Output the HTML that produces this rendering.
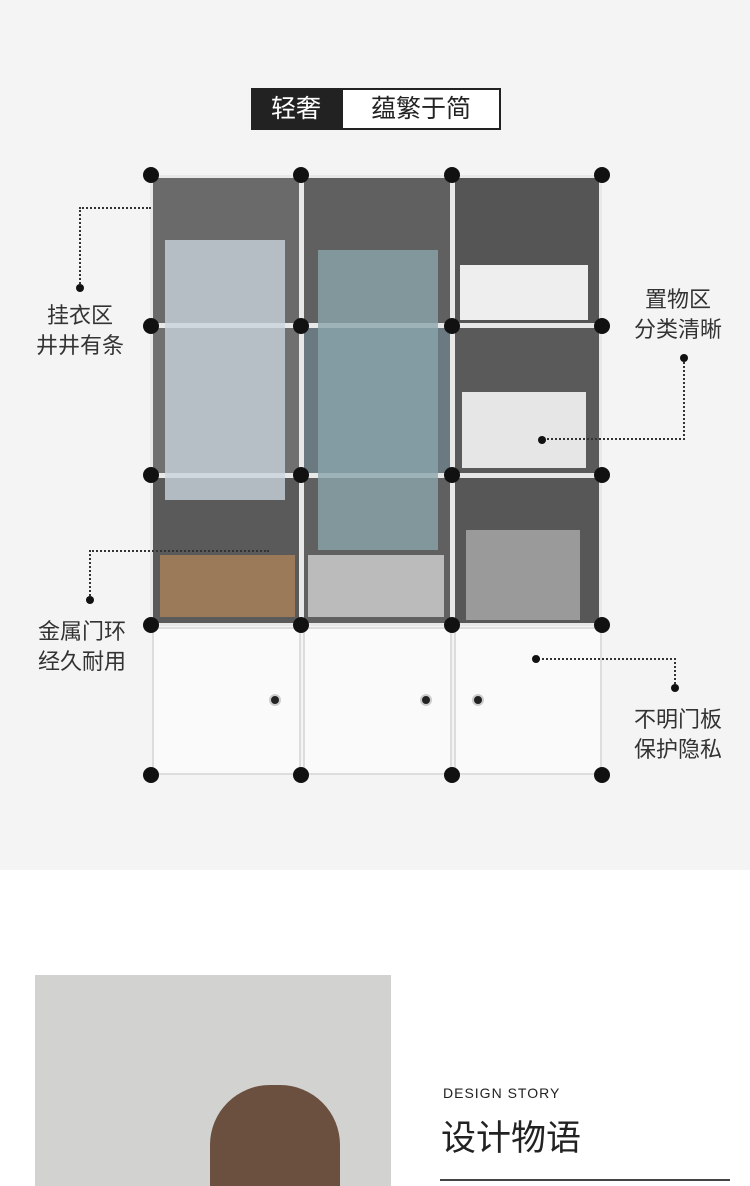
<!DOCTYPE html>
<html><head><meta charset="utf-8"><style>
*{margin:0;padding:0;box-sizing:border-box}
body{width:750px;height:1186px;overflow:hidden;background:#fff;font-family:"Liberation Sans","Noto Sans CJK SC",sans-serif;position:relative}
.top{position:absolute;left:0;top:0;width:750px;height:870px;background:#f4f4f4}
.abs{position:absolute}
.lbl{position:absolute;font-size:22px;line-height:30px;color:#333;text-align:center}
.dot{position:absolute;width:16px;height:16px;border-radius:50%;background:#111}
.cell{position:absolute;background:#5c5c5c;border:3px solid #e8e8e8}
.door{position:absolute;background:#fafafa;border:2px solid #ddd}
.knob{position:absolute;width:12px;height:12px;border-radius:50%;background:#222;border:2px solid #ccc}
.dl{position:absolute;border-color:#333;border-style:dotted;border-width:0}
</style></head><body>
<div class="top"></div>
<div class="abs" style="left:251px;top:88px;width:90px;height:42px;background:#222;color:#fff;font-size:25px;line-height:42px;text-align:center">轻奢</div>
<div class="abs" style="left:341px;top:88px;width:160px;height:42px;border:2px solid #222;background:#fff;color:#222;font-size:25px;line-height:38px;text-align:center">蕴繁于简</div>

<div class="cell" style="left:150px;top:175px;width:152px;height:151px;background:#6a6a6a"></div>
<div class="cell" style="left:301px;top:175px;width:152px;height:151px;background:#606060"></div>
<div class="cell" style="left:452px;top:175px;width:150px;height:151px;background:#555"></div>
<div class="cell" style="left:150px;top:325px;width:152px;height:151px;background:#707070"></div>
<div class="cell" style="left:301px;top:325px;width:152px;height:151px;background:#6a7a80"></div>
<div class="cell" style="left:452px;top:325px;width:150px;height:151px;background:#5a5a5a"></div>
<div class="cell" style="left:150px;top:475px;width:152px;height:151px;background:#5a5a5a"></div>
<div class="cell" style="left:301px;top:475px;width:152px;height:151px;background:#606060"></div>
<div class="cell" style="left:452px;top:475px;width:150px;height:151px;background:#575757"></div>
<div class="abs" style="left:165px;top:240px;width:120px;height:260px;background:#c9d3dc;opacity:.8"></div>
<div class="abs" style="left:318px;top:250px;width:120px;height:300px;background:#8aa5ab;opacity:.8"></div>
<div class="abs" style="left:460px;top:265px;width:128px;height:55px;background:#eee"></div>
<div class="abs" style="left:462px;top:392px;width:124px;height:76px;background:#e6e6e6"></div>
<div class="abs" style="left:466px;top:530px;width:114px;height:90px;background:#9a9a9a"></div>
<div class="abs" style="left:308px;top:555px;width:136px;height:62px;background:#bbb"></div>
<div class="abs" style="left:160px;top:555px;width:135px;height:62px;background:#9b7a5a"></div>
<div class="door" style="left:152px;top:627px;width:149px;height:148px"></div>
<div class="door" style="left:303px;top:627px;width:149px;height:148px"></div>
<div class="door" style="left:454px;top:627px;width:148px;height:148px"></div>
<div class="knob" style="left:269px;top:694px"></div>
<div class="knob" style="left:420px;top:694px"></div>
<div class="knob" style="left:472px;top:694px"></div>
<div class="dot" style="left:143px;top:167px"></div><div class="dot" style="left:293px;top:167px"></div><div class="dot" style="left:444px;top:167px"></div><div class="dot" style="left:594px;top:167px"></div>
<div class="dot" style="left:143px;top:318px"></div><div class="dot" style="left:293px;top:318px"></div><div class="dot" style="left:444px;top:318px"></div><div class="dot" style="left:594px;top:318px"></div>
<div class="dot" style="left:143px;top:467px"></div><div class="dot" style="left:293px;top:467px"></div><div class="dot" style="left:444px;top:467px"></div><div class="dot" style="left:594px;top:467px"></div>
<div class="dot" style="left:143px;top:617px"></div><div class="dot" style="left:293px;top:617px"></div><div class="dot" style="left:444px;top:617px"></div><div class="dot" style="left:594px;top:617px"></div>
<div class="dot" style="left:143px;top:767px"></div><div class="dot" style="left:293px;top:767px"></div><div class="dot" style="left:444px;top:767px"></div><div class="dot" style="left:594px;top:767px"></div>
<div class="dl" style="left:79px;top:207px;width:72px;height:80px;border-top-width:2px;border-left-width:2px"></div>
<div class="dot" style="left:76px;top:284px;width:8px;height:8px"></div>
<div class="dl" style="left:540px;top:358px;width:145px;height:82px;border-bottom-width:2px;border-right-width:2px"></div>
<div class="dot" style="left:680px;top:354px;width:8px;height:8px"></div>
<div class="dot" style="left:538px;top:436px;width:8px;height:8px"></div>
<div class="dl" style="left:89px;top:550px;width:180px;height:50px;border-top-width:2px;border-left-width:2px"></div>
<div class="dot" style="left:86px;top:596px;width:8px;height:8px"></div>
<div class="dl" style="left:535px;top:658px;width:141px;height:30px;border-top-width:2px;border-right-width:2px"></div>
<div class="dot" style="left:532px;top:655px;width:8px;height:8px"></div>
<div class="dot" style="left:671px;top:684px;width:8px;height:8px"></div>
<div class="lbl" style="left:20px;top:301px;width:120px">挂衣区<br>井井有条</div>
<div class="lbl" style="left:618px;top:285px;width:120px">置物区<br>分类清晰</div>
<div class="lbl" style="left:22px;top:617px;width:120px">金属门环<br>经久耐用</div>
<div class="lbl" style="left:618px;top:705px;width:120px">不明门板<br>保护隐私</div>

<div class="abs" style="left:35px;top:975px;width:356px;height:211px;background:#d2d2d0"></div>
<div class="abs" style="left:210px;top:1085px;width:130px;height:101px;background:#6b5040;border-radius:60px 60px 0 0"></div>
<div class="abs" style="left:443px;top:1085px;font-size:14px;letter-spacing:1px;color:#222">DESIGN STORY</div>
<div class="abs" style="left:441px;top:1110px;font-size:35px;color:#222">设计物语</div>
<div class="abs" style="left:440px;top:1179px;width:290px;height:2px;background:#444"></div>
</body></html>
